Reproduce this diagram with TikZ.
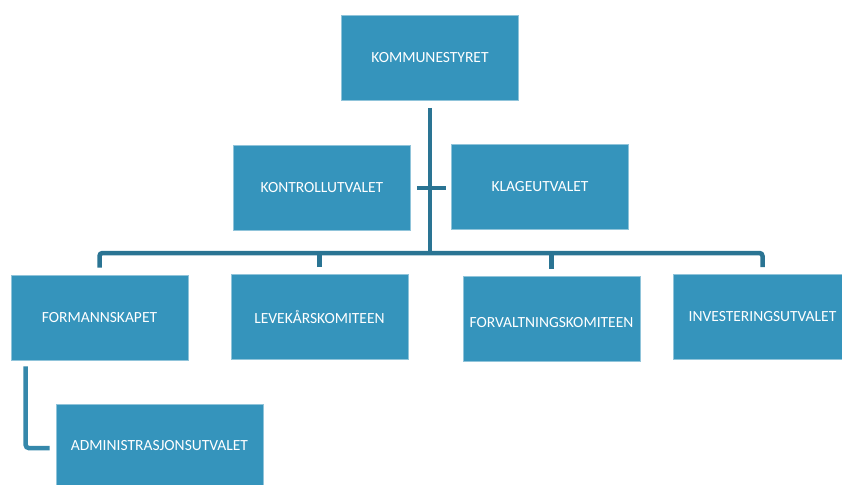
\documentclass[tikz,border=0pt]{standalone}
\usepackage{fontspec}
\setmainfont{Carlito}
\usetikzlibrary{positioning}
\definecolor{boxblue}{HTML}{3594BC}
\definecolor{linkteal}{HTML}{2A7493}
\definecolor{linklight}{HTML}{3588AB}
\tikzset{
	unit/.style={fill=boxblue, draw=boxblue!55!white, line width=0.6pt, text=white, minimum width=177pt, minimum height=85pt, inner sep=0pt, font=\fontsize{15.5}{18}\selectfont},
	conn/.style={draw=linkteal, line width=4.5pt},
}
\begin{document}
\begin{tikzpicture}[x=1pt,y=-1pt]
		\useasboundingbox (0,0) rectangle (842,484);
		\node[unit] (kommunestyret) at (430,58) {KOMMUNESTYRET};
		\node[unit] (kontroll) at (322,188) {KONTROLLUTVALET};
		\node[unit] (klage) at (540,186.5) {KLAGEUTVALET};
		\node[unit] (formannskap) at (99.5,317.5) {FORMANNSKAPET};
		\node[unit] (levekar) at (319.5,317) {LEVEKÅRSKOMITEEN};
		\node[unit, text height=18pt, text depth=0pt] (forvaltning) at (551.5,318.5) {FORVALTNINGSKOMITEEN};
		\node[unit, minimum width=179pt] (investering) at (762.5,317) {INVESTERINGSUTVALET};
		\node[unit, minimum width=207pt, minimum height=84pt] (admin) at (159.5,446) {ADMINISTRASJONSUTVALET};
		\coordinate (bus) at (430,253);
		% trunk and bus
		\draw[conn] ([yshift=-7pt]kommunestyret.south) -- (kommunestyret.south |- bus);
		\draw[conn, rounded corners=3pt] ([yshift=7pt]formannskap.north) |- (bus) -| ([yshift=7pt]investering.north);
		\draw[conn] ([yshift=7pt]levekar.north) -- (levekar.north |- bus);
		\draw[conn] ([yshift=7pt]forvaltning.north) -- (forvaltning.north |- bus);
		\draw[conn] ([xshift=6pt]kontroll.east) -- ([xshift=-5pt]kontroll.east -| klage.west);
		% sub unit
		\draw[conn, draw=linklight, rounded corners=3pt] ([xshift=15pt,yshift=-6pt]formannskap.south west) |- ([xshift=-6pt,yshift=-2pt]admin.west);
	\end{tikzpicture}
\end{document}
